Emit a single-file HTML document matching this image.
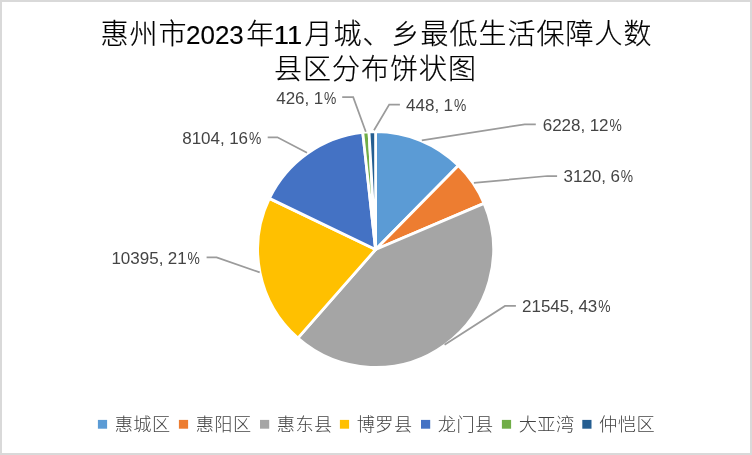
<!DOCTYPE html>
<html lang="zh-CN"><head><meta charset="utf-8"><title>惠州市2023年11月城、乡最低生活保障人数县区分布饼状图</title>
<style>
html,body{margin:0;padding:0;background:#fff;overflow:hidden}
svg{display:block}
text{font-family:"Liberation Sans","Noto Sans CJK SC",sans-serif}
.tc{font-size:28px;letter-spacing:1px;font-weight:300;fill:#000;stroke:#000;stroke-width:0.2px}
.td{font-size:26px;fill:#000;stroke:#000;stroke-width:0.15px}
.lab text{font-size:17px;fill:#444}
.leg text{font-size:18.2px;letter-spacing:0.47px;font-weight:300;fill:#444}
.lead polyline{fill:none;stroke:#9B9B9B;stroke-width:1.75}
.pie path{stroke:#fff;stroke-width:2.8;stroke-linejoin:round}
</style></head><body>
<svg width="752" height="455" viewBox="0 0 752 455">
<rect x="0" y="0" width="752" height="455" fill="#fff"/>
<rect x="1" y="1" width="750" height="453" fill="none" stroke="#D9D9D9" stroke-width="2"/>
<g class="title"><text><tspan class="tc" x="100.4" y="44.4">惠州市</tspan><tspan class="td" x="186.0" y="44.0" textLength="57.8" lengthAdjust="spacingAndGlyphs">2023</tspan><tspan class="tc" x="246.2" y="44.4">年</tspan><tspan class="td" x="273.8" y="44.0" textLength="28.4" lengthAdjust="spacingAndGlyphs">11</tspan><tspan class="tc" x="304.6" y="44.4">月城、乡最低生活保障人数</tspan></text><text><tspan class="tc" x="274.0" y="79.2">县区分布饼状图</tspan></text></g>
<g class="pie"><path d="M375.60 249.50L375.60 131.60A117.9 117.9 0 0 1 458.39 165.56Z" fill="#5B9BD5"/><path d="M375.60 249.50L458.39 165.56A117.9 117.9 0 0 1 484.09 203.34Z" fill="#ED7D31"/><path d="M375.60 249.50L484.09 203.34A117.9 117.9 0 0 1 297.86 338.14Z" fill="#A5A5A5"/><path d="M375.60 249.50L297.86 338.14A117.9 117.9 0 0 1 269.36 198.37Z" fill="#FFC000"/><path d="M375.60 249.50L269.36 198.37A117.9 117.9 0 0 1 362.75 132.30Z" fill="#4472C4"/><path d="M375.60 249.50L362.75 132.30A117.9 117.9 0 0 1 369.00 131.78Z" fill="#70AD47"/><path d="M375.60 249.50L369.00 131.78A117.9 117.9 0 0 1 375.60 131.60Z" fill="#255E91"/></g>
<g class="lead"><polyline points="342.2,97.1 353.2,97.1 365.8,131.8"/><polyline points="399.9,104.6 389.2,104.6 374.0,130.2"/><polyline points="535.8,124.4 524.7,124.4 421.8,140.3"/><polyline points="557.1,176.0 547.4,176.0 473.9,182.9"/><polyline points="515.9,305.9 505.0,305.9 444.6,344.8"/><polyline points="206.6,257.3 216.6,257.3 259.7,272.4"/><polyline points="267.7,137.3 277.4,137.3 307.0,152.8"/></g>
<g class="lab"><text y="103.9"><tspan x="276.20">426,</tspan><tspan x="313.68"> </tspan><tspan x="313.68">1</tspan><tspan x="324.03" textLength="12.3" lengthAdjust="spacingAndGlyphs">%</tspan></text><text y="110.8"><tspan x="406.10">448,</tspan><tspan x="443.58"> </tspan><tspan x="443.58">1</tspan><tspan x="453.93" textLength="12.3" lengthAdjust="spacingAndGlyphs">%</tspan></text><text y="131.0"><tspan x="542.70">6228,</tspan><tspan x="589.63"> </tspan><tspan x="589.63">12</tspan><tspan x="609.43" textLength="12.3" lengthAdjust="spacingAndGlyphs">%</tspan></text><text y="182.0"><tspan x="563.50">3120,</tspan><tspan x="610.43"> </tspan><tspan x="610.43">6</tspan><tspan x="620.78" textLength="12.3" lengthAdjust="spacingAndGlyphs">%</tspan></text><text y="311.9"><tspan x="522.00">21545,</tspan><tspan x="578.38"> </tspan><tspan x="578.38">43</tspan><tspan x="598.18" textLength="12.3" lengthAdjust="spacingAndGlyphs">%</tspan></text><text y="264.0"><tspan x="111.40">10395,</tspan><tspan x="167.78"> </tspan><tspan x="167.78">21</tspan><tspan x="187.58" textLength="12.3" lengthAdjust="spacingAndGlyphs">%</tspan></text><text y="144.0"><tspan x="182.20">8104,</tspan><tspan x="229.13"> </tspan><tspan x="229.13">16</tspan><tspan x="248.93" textLength="12.3" lengthAdjust="spacingAndGlyphs">%</tspan></text></g>
<g class="leg"><rect x="97.9" y="419.9" width="9.2" height="8.8" fill="#5B9BD5"/><text x="114.7" y="430.5">惠城区</text><rect x="178.9" y="419.9" width="9.2" height="8.8" fill="#ED7D31"/><text x="195.7" y="430.5">惠阳区</text><rect x="260" y="419.9" width="9.2" height="8.8" fill="#A5A5A5"/><text x="276.8" y="430.5">惠东县</text><rect x="339.9" y="419.9" width="9.2" height="8.8" fill="#FFC000"/><text x="356.7" y="430.5">博罗县</text><rect x="421" y="419.9" width="9.2" height="8.8" fill="#4472C4"/><text x="437.8" y="430.5">龙门县</text><rect x="501.9" y="419.9" width="9.2" height="8.8" fill="#70AD47"/><text x="518.7" y="430.5">大亚湾</text><rect x="582.3" y="419.9" width="9.2" height="8.8" fill="#255E91"/><text x="599.1" y="430.5">仲恺区</text></g>
</svg>
</body></html>
